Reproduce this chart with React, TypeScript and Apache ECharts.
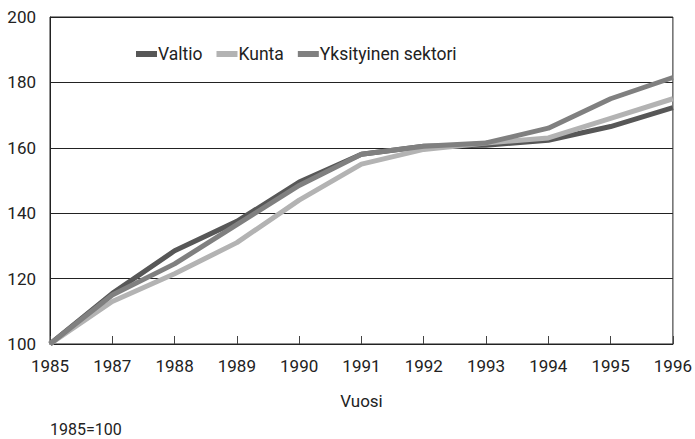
import React, { useEffect, useRef } from "react";
import * as echarts from "echarts";

const years = ["1985", "1987", "1988", "1989", "1990", "1991", "1992", "1993", "1994", "1995", "1996"];
const valtio = [100, 115.5, 128.5, 137.5, 149.5, 158, 160.5, 160.8, 162.3, 166.5, 172.3];
const kunta = [100, 113, 121.5, 131, 144, 155, 159.5, 161.5, 163, 169, 175];
const yksityinen = [100, 115, 124.5, 136.5, 148.5, 158, 160.5, 161.5, 166, 175, 181.5];
const seriesNames = ["Valtio", "Kunta", "Yksityinen sektori"];
const yTicks = { min: 100, max: 200, interval: 20 };
const xAxisName = "Vuosi";
const note = "1985=100";

const FONT = 'Roboto, "Liberation Sans", sans-serif';

export default function App() {
  const ref = useRef<HTMLDivElement>(null);
  useEffect(() => {
    if (!ref.current) return;
    const chart = echarts.init(ref.current, null, { renderer: "svg" });
    const colors = ["#575757", "#b3b3b3", "#808080"];
    const data = [valtio, kunta, yksityinen];
    chart.setOption({
      animation: false,
      backgroundColor: "#ffffff",
      textStyle: { fontFamily: FONT },
      grid: {
        left: 50,
        right: 14.5,
        top: 17,
        bottom: 95,
        show: true,
        borderColor: "#222",
        borderWidth: 1,
        backgroundColor: "transparent",
      },
      legend: {
        left: 131,
        top: 40,
        itemWidth: 21,
        itemHeight: 6,
        itemGap: 14,
        icon: "rect",
        textStyle: { fontFamily: FONT, fontSize: 17.5, color: "#222", padding: [0, 0, 0, -4] },
        data: seriesNames,
      },
      xAxis: {
        type: "category",
        data: years,
        boundaryGap: false,
        name: xAxisName,
        nameLocation: "middle",
        nameGap: 48,
        nameTextStyle: { fontFamily: FONT, fontSize: 17, color: "#222" },
        axisLine: { show: true, lineStyle: { color: "#222", width: 1 } },
        axisTick: { show: true, inside: true, length: 8, lineStyle: { color: "#444" } },
        axisLabel: { fontFamily: FONT, fontSize: 17, color: "#222", margin: 13 },
        splitLine: { show: false },
      },
      yAxis: {
        type: "value",
        min: yTicks.min,
        max: yTicks.max,
        interval: yTicks.interval,
        axisLine: { show: true, lineStyle: { color: "#222", width: 1 } },
        axisTick: { show: false },
        axisLabel: { fontFamily: FONT, fontSize: 17, color: "#222", margin: 14 },
        splitLine: { show: true, lineStyle: { color: "#222", width: 1 } },
      },
      graphic: [
        {
          type: "text",
          left: 50,
          top: 421,
          style: { text: note, fontFamily: FONT, fontSize: 16, fill: "#222" },
        },
      ],
      series: seriesNames.map((name, i) => ({
        name,
        type: "line",
        data: data[i],
        showSymbol: false,
        symbol: "none",
        lineStyle: { color: colors[i], width: 5 },
        itemStyle: { color: colors[i] },
        z: 2 + i,
      })),
    });
    return () => chart.dispose();
  }, []);
  return <div ref={ref} style={{ width: 695, height: 439, position: "absolute", left: 0, top: 0 }} />;
}
